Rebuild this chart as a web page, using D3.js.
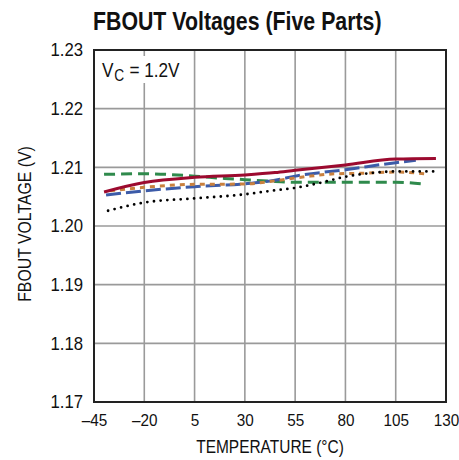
<!DOCTYPE html>
<html><head><meta charset="utf-8">
<script src="https://cdn.jsdelivr.net/npm/d3@7/dist/d3.min.js"></script>
<style>
body{margin:0;background:#fff}
text{font-family:"Liberation Sans",Arial,sans-serif;fill:#111}
</style>
</head><body>
<svg id="chart" width="459" height="460"></svg>
<script>
// ---- data ----
const xTickValues = [-45, -20, 5, 30, 55, 80, 105, 130];
const xTickLabels = ["\u201345", "\u201320", "5", "30", "55", "80", "105", "130"];
const yTickValues = [1.17, 1.18, 1.19, 1.20, 1.21, 1.22, 1.23];
const yTickLabels = ["1.17", "1.18", "1.19", "1.20", "1.21", "1.22", "1.23"];

const redTemp   = [-40, -20, 5, 30, 45, 55, 80, 105, 125];
const redVolt   = [1.2058, 1.2074, 1.2083, 1.2087, 1.2091, 1.2095, 1.2104, 1.2114, 1.2115];

const greenTemp = [-40, -20, 5, 20, 30, 45, 55, 80, 105, 120];
const greenVolt = [1.2088, 1.2089, 1.2085, 1.2081, 1.2079, 1.2076, 1.20745, 1.20745, 1.20745, 1.2071];

const blueTemp  = [-39, -20, 5, 30, 45, 55, 80, 105, 115];
const blueVolt  = [1.2053, 1.2060, 1.2067, 1.2072, 1.2078, 1.2085, 1.2096, 1.2108, 1.2112];

const orangeTemp = [-37, -20, 5, 30, 45, 60, 75, 90, 105, 120];
const orangeVolt = [1.2060, 1.2066, 1.2071, 1.20716, 1.2077, 1.2084, 1.2089, 1.2090, 1.2092, 1.2089];

const blackTemp = [-38, -20, 5, 30, 43, 55, 68, 80, 92, 105, 124];
const blackVolt = [1.2026, 1.2040, 1.2047, 1.2054, 1.2060, 1.2065, 1.2074, 1.2084, 1.2090, 1.2093, 1.2093];

// ---- layout ----
const svg = d3.select("#chart");
const L = 94, T = 50, W = 352, H = 352;
const x = d3.scaleLinear().domain([-45, 130]).range([L, L + W]);
const y = d3.scaleLinear().domain([1.17, 1.23]).range([T + H, T]);

// grid
const grid = svg.append("g");
grid.selectAll("line.vx").data(xTickValues.slice(1, -1)).join("line")
  .attr("x1", d => x(d)).attr("x2", d => x(d)).attr("y1", T).attr("y2", T + H)
  .attr("stroke", "#9a9a9a").attr("stroke-width", 1.6);
grid.selectAll("line.hy").data(yTickValues.slice(1, -1)).join("line")
  .attr("y1", d => y(d)).attr("y2", d => y(d)).attr("x1", L).attr("x2", L + W)
  .attr("stroke", "#9a9a9a").attr("stroke-width", 1.6);

// V_C label with white background, condensed through a scale transform
svg.append("rect").attr("x", L + 4).attr("y", T + 6).attr("width", 78).attr("height", 27).attr("fill", "#fff");
const vcG = svg.append("g").attr("transform", `translate(${L + 8},${T + 27}) scale(0.86,1)`);
const vMain = vcG.append("text").attr("x", 0).attr("y", 0).attr("font-size", 20).text("V");
let cx = vMain.node().getComputedTextLength() + 1;
const vSub = vcG.append("text").attr("x", cx).attr("y", 4).attr("font-size", 16).text("C");
cx += vSub.node().getComputedTextLength() + 6;
vcG.append("text").attr("x", cx).attr("y", 0).attr("font-size", 20).text("= 1.2V");

// axes labels
const xAxis = d3.axisBottom(x).tickValues(xTickValues).tickFormat((d, i) => xTickLabels[i]).tickSize(0).tickPadding(12);
const gx = svg.append("g").attr("transform", `translate(0,${T + H})`).call(xAxis);
gx.select(".domain").remove();
gx.selectAll("text").attr("font-size", 17).attr("fill", "#111")
  .style("font-family", '"Liberation Sans",Arial,sans-serif')
  .attr("transform", "scale(0.9,1)");

const yAxis = d3.axisLeft(y).tickValues(yTickValues).tickFormat((d, i) => yTickLabels[i]).tickSize(0).tickPadding(11);
const gy = svg.append("g").attr("transform", `translate(${L},0)`).call(yAxis);
gy.select(".domain").remove();
gy.selectAll("text").attr("font-size", 18).attr("fill", "#111")
  .style("font-family", '"Liberation Sans",Arial,sans-serif')
  .attr("x", -11 / 0.93).attr("transform", "scale(0.93,1)");

// series
const line = d3.line().x(d => x(d[0])).y(d => y(d[1])).curve(d3.curveMonotoneX);
const zip = (a, b) => a.map((v, i) => [v, b[i]]);
const series = [
  {t: greenTemp, v: greenVolt, c: "#2f8a4c", w: 3, dash: "11,6", cap: "butt"},
  {t: blueTemp, v: blueVolt, c: "#3c5ba8", w: 3, dash: "15,5", cap: "butt"},
  {t: orangeTemp, v: orangeVolt, c: "#c9803e", w: 3, dash: "5,5", cap: "butt"},
  {t: redTemp, v: redVolt, c: "#9c0a2f", w: 3, dash: null, cap: "butt"},
  {t: blackTemp, v: blackVolt, c: "#000", w: 2.8, dash: "0,6.7", cap: "round"}
];
series.forEach(s => {
  svg.append("path").attr("d", line(zip(s.t, s.v)))
    .attr("fill", "none").attr("stroke", s.c).attr("stroke-width", s.w)
    .attr("stroke-dasharray", s.dash).attr("stroke-linecap", s.cap);
});

// frame
svg.append("rect").attr("x", L).attr("y", T).attr("width", W).attr("height", H)
  .attr("fill", "none").attr("stroke", "#222").attr("stroke-width", 2);

// titles
svg.append("text").attr("transform", "translate(93,30) scale(0.82,1)")
  .attr("font-size", 26).attr("font-weight", "bold")
  .text("FBOUT Voltages (Five Parts)");
svg.append("text").attr("transform", `translate(${L + W / 2},453) scale(0.86,1)`)
  .attr("text-anchor", "middle").attr("font-size", 18)
  .text("TEMPERATURE (\u00B0C)");
svg.append("text").attr("transform", `translate(31,${T + H / 2 - 2}) rotate(-90) scale(0.88,1)`)
  .attr("text-anchor", "middle").attr("font-size", 18)
  .text("FBOUT VOLTAGE (V)");
</script>
</body></html>
